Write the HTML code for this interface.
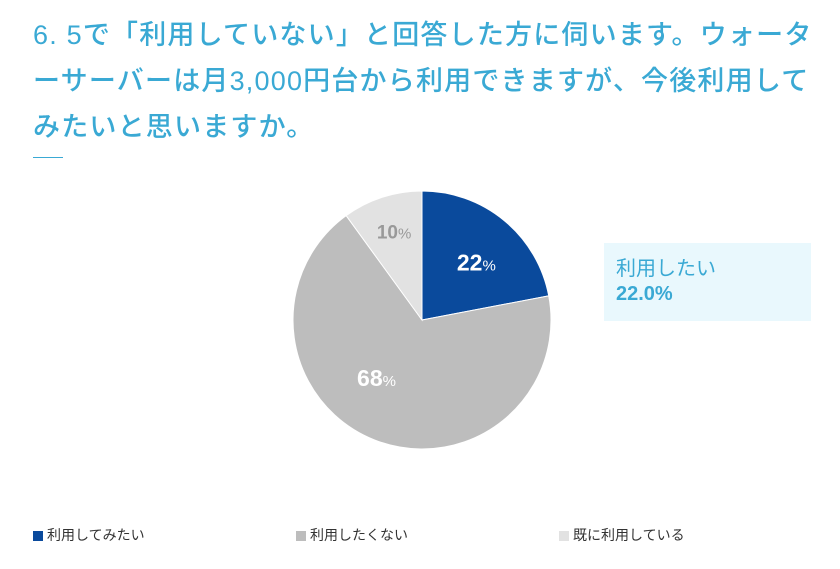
<!DOCTYPE html>
<html><head><meta charset="utf-8">
<style>
body{margin:0;width:840px;height:569px;background:#fff;font-family:"Liberation Sans","Noto Sans CJK JP",sans-serif;overflow:hidden;position:relative}
#title{position:absolute;left:33px;top:12px;width:800px;font-size:27px;line-height:46px;color:#3aa9d4;margin:0;font-weight:500;white-space:nowrap;letter-spacing:1.2px}
#rule{position:absolute;left:33px;top:157px;width:30px;height:1px;background:#3aa9d4}
#callout{position:absolute;left:604px;top:243px;width:207px;height:78px;background:#e9f8fd;color:#3aa9d4;font-size:20px;line-height:25px;box-sizing:border-box;padding:14px 0 0 12px}
.leg{position:absolute;top:526px;font-size:14px;color:#333;line-height:18px}
.leg i{display:inline-block;width:10px;height:10px;margin-right:4px;vertical-align:-1px}
</style></head><body>
<h1 id="title">6. 5で「利用していない」と回答した方に伺います。ウォータ<br>ーサーバーは月3,000円台から利用できますが、今後利用して<br>みたいと思いますか。</h1>
<div id="rule"></div>
<svg id="pie" width="840" height="569" style="position:absolute;left:0;top:0"></svg>
<div id="callout">利用したい<br><b>22.0%</b></div>
<div class="leg" style="left:33px"><i style="background:#0a4a9c"></i>利用してみたい</div>
<div class="leg" style="left:296px"><i style="background:#bdbdbd"></i>利用したくない</div>
<div class="leg" style="left:559px"><i style="background:#e2e2e2"></i>既に利用している</div>
<script>
const categories=["利用してみたい","利用したくない","既に利用している"];
const values=[22,68,10];
const colors=["#0a4a9c","#bdbdbd","#e2e2e2"];
const labelColors=["#fff","#fff","#999"];
const nudgeX=[5,-17,-4], nudgeY=[2,-14,-16];
const svg=document.getElementById('pie');
const NS="http://www.w3.org/2000/svg";
const cx=422,cy=320,r=129;
const total=values.reduce((a,b)=>a+b,0);
let a0=0;
values.forEach((v,i)=>{
  const a1=a0+v/total*2*Math.PI;
  const x0=cx+r*Math.sin(a0),y0=cy-r*Math.cos(a0);
  const x1=cx+r*Math.sin(a1),y1=cy-r*Math.cos(a1);
  const p=document.createElementNS(NS,'path');
  p.setAttribute('d',`M${cx},${cy}L${x0},${y0}A${r},${r} 0 ${a1-a0>Math.PI?1:0} 1 ${x1},${y1}Z`);
  p.setAttribute('fill',colors[i]);
  p.setAttribute('stroke','#fff');p.setAttribute('stroke-width','1');
  
  
  svg.appendChild(p);
  const am=(a0+a1)/2, lr=r*0.6;
  const t=document.createElementNS(NS,'text');
  t.setAttribute('x',cx+lr*Math.sin(am)+nudgeX[i]);
  t.setAttribute('y',cy-lr*Math.cos(am)+8+nudgeY[i]);
  t.setAttribute('text-anchor','middle');
  t.setAttribute('fill',labelColors[i]);
  t.setAttribute('font-weight','bold');
  t.setAttribute('font-size',i==2?'19':'23');
  t.innerHTML=v+'<tspan font-size="15" font-weight="normal">%</tspan>';
  
  
  svg.appendChild(t);
  a0=a1;
});
</script>
</body></html>
